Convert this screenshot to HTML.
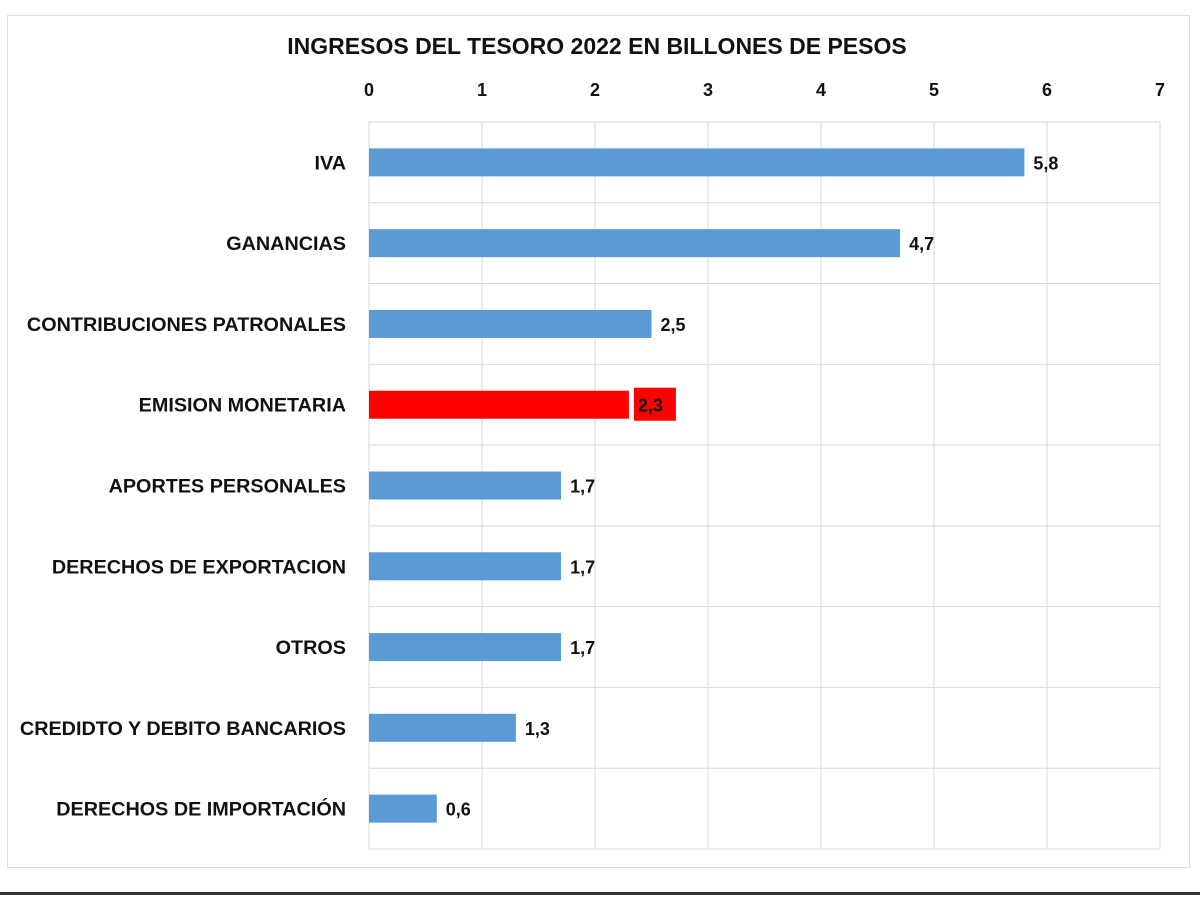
<!DOCTYPE html>
<html><head><meta charset="utf-8"><style>
body{margin:0;background:#fff;width:1200px;height:900px;overflow:hidden;font-family:"Liberation Sans",Arial,sans-serif;}
svg text{font-family:"Liberation Sans",Arial,sans-serif;font-weight:bold;fill:#111;}
</style></head><body>
<svg width="1200" height="900">
<rect x="7.5" y="15.5" width="1182" height="852" fill="#fff" stroke="#ddd"/>
<rect x="0" y="892" width="1200" height="3" fill="#333"/>
<text x="597" y="54" text-anchor="middle" font-size="23">INGRESOS  DEL TESORO 2022  EN BILLONES  DE PESOS</text>
<g id="grid"></g><g id="bars"></g>
</svg>
<script>
const categories=["IVA","GANANCIAS","CONTRIBUCIONES PATRONALES","EMISION MONETARIA","APORTES PERSONALES","DERECHOS DE EXPORTACION","OTROS","CREDIDTO Y DEBITO BANCARIOS","DERECHOS DE IMPORTACIÓN"];
const values=[5.8,4.7,2.5,2.3,1.7,1.7,1.7,1.3,0.6];
const labels=["5,8","4,7","2,5","2,3","1,7","1,7","1,7","1,3","0,6"];
const highlight=[false,false,false,true,false,false,false,false,false];
const ticks=[0,1,2,3,4,5,6,7];
const x0=369,x1=1160,yTop=122,yBot=849,xmax=7;
const xs=v=>x0+(x1-x0)*v/xmax;
const band=(yBot-yTop)/categories.length;
const NS="http://www.w3.org/2000/svg";
function mk(t,a,p){const e=document.createElementNS(NS,t);for(const k in a)e.setAttribute(k,a[k]);p.appendChild(e);return e;}
const g=document.getElementById('grid'),b=document.getElementById('bars');
ticks.forEach(t=>{
 const l=mk('line',{x1:xs(t),x2:xs(t),y1:yTop,y2:yBot,stroke:'#d9d9d9'},g);
 
 
 const tx=mk('text',{x:xs(t),y:96,'text-anchor':'middle','font-size':18},g);tx.textContent=t;
 
 
});
for(let i=0;i<=categories.length;i++){
 const l=mk('line',{x1:x0,x2:x1,y1:yTop+band*i,y2:yTop+band*i,stroke:'#d9d9d9'},g);
 
 
}
categories.forEach((c,i)=>{
 const cy=yTop+band*(i+0.5);
 const r=mk('rect',{x:x0,y:cy-14,width:xs(values[i])-x0,height:28,fill:highlight[i]?'#ff0000':'#5b9bd5'},b);
 
 
 const lt=mk('text',{x:346,y:cy+7,'text-anchor':'end','font-size':19.8},b);lt.textContent=c;
 
 
 const vx=xs(values[i])+9;
 if(highlight[i]){
  const bx=mk('rect',{x:vx-4,y:cy-17,width:42,height:33,fill:'#ff0000'},b);
  
  
 }
 const vt=mk('text',{x:vx,y:cy+7,'font-size':18},b);vt.textContent=labels[i];
 
 
});
</script>
</body></html>
